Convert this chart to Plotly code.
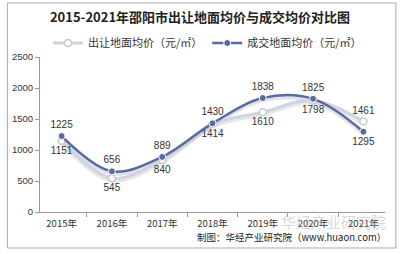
import plotly.graph_objects as go

years = ["2015年", "2016年", "2017年", "2018年", "2019年", "2020年", "2021年"]
transfer_price = [1151, 545, 840, 1414, 1610, 1798, 1461]
deal_price = [1225, 656, 889, 1430, 1838, 1825, 1295]
y_ticks = [0, 500, 1000, 1500, 2000, 2500]

L, R, T, B = 36, 15, 57, 42
W, H = 400, 254
pw, ph = W - L - R, H - T - B

def px(x):
    return (x - L) / pw

def py(y):
    return (H - B - y) / ph

light_pos = ["bottom center"] * 6 + ["top center"]
dark_pos = ["top center"] * 6 + ["bottom center"]

fig = go.Figure()
# shadows
fig.add_trace(go.Scatter(x=years, y=[v - 25 for v in transfer_price], mode="lines",
                         line=dict(color="rgba(200,200,210,0.45)", width=5, shape="spline"),
                         showlegend=False, hoverinfo="skip"))
fig.add_trace(go.Scatter(x=years, y=[v - 25 for v in deal_price], mode="lines",
                         line=dict(color="rgba(170,175,200,0.35)", width=5, shape="spline"),
                         showlegend=False, hoverinfo="skip"))
fig.add_trace(go.Scatter(
    x=years, y=transfer_price, name="出让地面均价（元/㎡）",
    mode="lines+markers+text", text=[str(v) for v in transfer_price],
    textposition=light_pos, textfont=dict(size=10, color="#333333", family="Liberation Sans, Arial"),
    line=dict(color="#D0D4E0", width=3, shape="spline"),
    marker=dict(size=7, color="#FFFFFF", line=dict(color="#C4C8D4", width=1.5)),
))
fig.add_trace(go.Scatter(
    x=years, y=deal_price, name="成交地面均价（元/㎡）",
    mode="lines+markers+text", text=[str(v) for v in deal_price],
    textposition=dark_pos, textfont=dict(size=10, color="#333333", family="Liberation Sans, Arial"),
    line=dict(color="#5B6A9E", width=2.5, shape="spline"),
    marker=dict(size=7, color="#5B6A9E", line=dict(color="#FFFFFF", width=1)),
))

fig.update_layout(
    width=W, height=H,
    margin=dict(l=L, r=R, t=T, b=B),
    paper_bgcolor="white", plot_bgcolor="white",
    font=dict(family="Noto Sans CJK SC", color="#333333", size=10),
    title=dict(text="<b>2015-2021年邵阳市出让地面均价与成交均价对比图</b>",
               x=0.5, xanchor="center", y=1 - 17 / H, yanchor="middle",
               font=dict(size=13, color="#222222", family="Noto Sans CJK SC")),
    legend=dict(orientation="h", x=px(44), xanchor="left", y=py(43), yanchor="middle",
                font=dict(size=11, color="#333333"), itemwidth=30,
                bgcolor="rgba(0,0,0,0)", tracegroupgap=0),
    xaxis=dict(showline=True, linecolor="#999999", linewidth=1,
               ticks="outside", ticklen=4, tickcolor="#999999",
               tickson="boundaries", showgrid=False, ticklabelstandoff=3,
               tickfont=dict(size=9.5, color="#333333", family="Noto Sans CJK SC")),
    yaxis=dict(range=[0, 2500], tickvals=y_ticks, showline=True, linecolor="#999999",
               linewidth=1, ticks="outside", ticklen=4, tickcolor="#999999",
               showgrid=False, zeroline=False,
               tickfont=dict(size=9.5, color="#333333", family="Liberation Sans, Arial")),
    showlegend=True,
)

fig.add_shape(type="rect", xref="paper", yref="paper",
              x0=px(3), x1=px(396), y0=py(248), y1=py(3),
              line=dict(color="#AAAAAA", width=1), fillcolor="rgba(0,0,0,0)", layer="below")

fig.add_annotation(text="华经产业研究院", xref="paper", yref="paper",
                   x=px(388), y=py(221), xanchor="right", yanchor="middle",
                   showarrow=False, font=dict(size=15, color="rgba(180,180,180,0.5)"))
fig.add_annotation(text="制图：华经产业研究院（www.huaon.com）", xref="paper", yref="paper",
                   x=px(388), y=py(237), xanchor="right", yanchor="middle",
                   showarrow=False, font=dict(size=9.5, color="#222222"))

fig.write_html("out.html")
